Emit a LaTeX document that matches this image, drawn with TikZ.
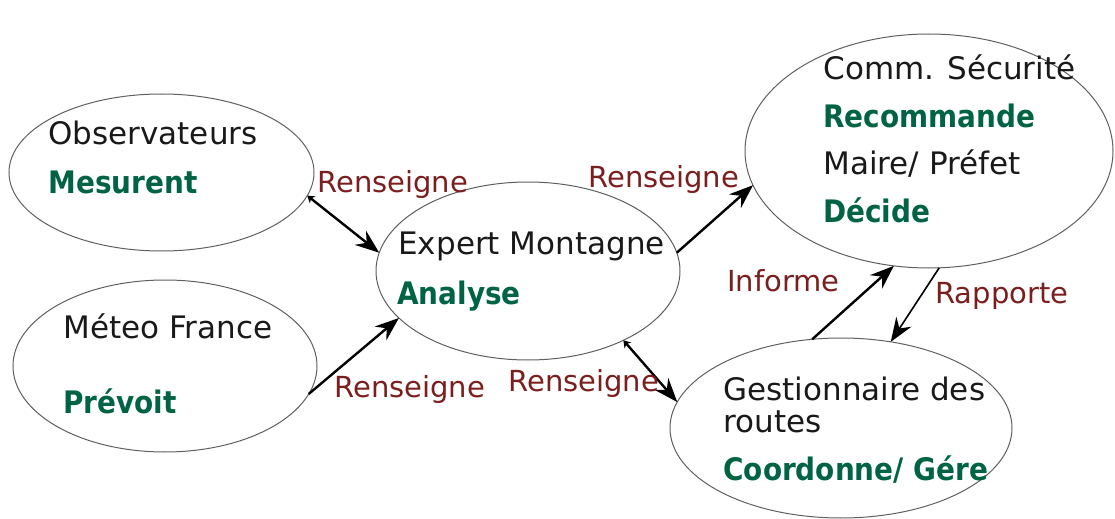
\documentclass[tikz,border=0pt]{standalone}
\usepackage{fontspec}
\setmainfont{DejaVu Sans}
\newfontfamily\etroite{DejaVu Sans Condensed}
\usepackage{xcolor}
\usetikzlibrary{arrows.meta,shapes.geometric}
\definecolor{actNoir}{RGB}{25,25,25}
\definecolor{actVert}{RGB}{0,100,68}
\definecolor{lienRouge}{RGB}{122,30,30}
\definecolor{bordGris}{RGB}{95,95,95}

\begin{document}
\begin{tikzpicture}[x=0.5pt,y=0.5pt,
  acteur/.style={ellipse,draw=bordGris,line width=0.5pt,inner sep=0pt,outer sep=0pt},
  nom/.style={anchor=base west,inner sep=0pt,text=actNoir,font=\fontsize{15.5}{18}\selectfont},
  verbe/.style={anchor=base west,inner sep=0pt,text=actVert,font=\etroite\bfseries\fontsize{15.5}{18}\selectfont},
  lien/.style={anchor=base west,inner sep=0pt,text=lienRouge,font=\fontsize{14.5}{17}\selectfont},
  fleche/.style={-{Stealth[length=12pt,width=9pt,inset=4pt]},line width=1.2pt,black},
  double/.style={{Stealth[length=3.5pt,width=4.5pt]}-{Stealth[length=12pt,width=9pt,inset=4pt]},line width=1.2pt,black}]
\path[use as bounding box] (0,0) rectangle (1115,-519);

% les acteurs
\node[acteur,minimum width=152.5pt,minimum height=78.5pt] (obs) at (161.5,-172.5) {};
\node[acteur,minimum width=152pt,minimum height=86pt] (meteo) at (165,-366) {};
\node[acteur,minimum width=152pt,minimum height=89pt] (expert) at (528,-271) {};
\node[acteur,minimum width=184pt,minimum height=117pt] (comm) at (929,-151) {};
\node[acteur,minimum width=171pt,minimum height=90pt] (gest) at (841,-428) {};

\node[nom] (obsNom) at (48,-145) {Observateurs};
\node[verbe] (obsVerbe) at (48,-193) {Mesurent};

\node[nom] (meteoNom) at (63,-338) {Méteo France};
\node[verbe] (meteoVerbe) at (63,-413) {Prévoit};

\node[nom] (expertNom) at (398,-255) {Expert Montagne};
\node[verbe] (expertVerbe) at (397,-305) {Analyse};

\node[nom] (commNom) at (823,-80) {Comm. Sécurité};
\node[verbe] (commVerbe) at (823,-128) {Recommande};
\node[nom] (maireNom) at (823,-175) {Maire/ Préfet};
\node[verbe] (maireVerbe) at (823,-222) {Décide};

\node[nom] (gestNom) at (723,-400) {Gestionnaire des};
\node[nom] (gestNom2) at (723,-432) {routes};
\node[verbe] (gestVerbe) at (723,-480) {Coordonne/ Gére};

% les liens
\draw[double] (obs.-9) -- (expert.173);
\draw[fleche] (meteo.-11.5) -- (expert.-160);
\draw[fleche] (expert.7) -- (comm.191);
\draw[double] (expert.-36) -- (gest.171);
\draw[fleche] (gest.108) -- (comm.253);
\draw[fleche,line width=0.8pt] (comm.-85.6) -- (gest.60);

\node[lien] (l1) at (317,-192) {Renseigne};
\node[lien] (l2) at (334,-397) {Renseigne};
\node[lien] (l3) at (588,-188) {Renseigne};
\node[lien] (l4) at (508,-391) {Renseigne};
\node[lien] (l5) at (727,-292) {Informe};
\node[lien] (l6) at (935,-303) {Rapporte};
\end{tikzpicture}
\end{document}
